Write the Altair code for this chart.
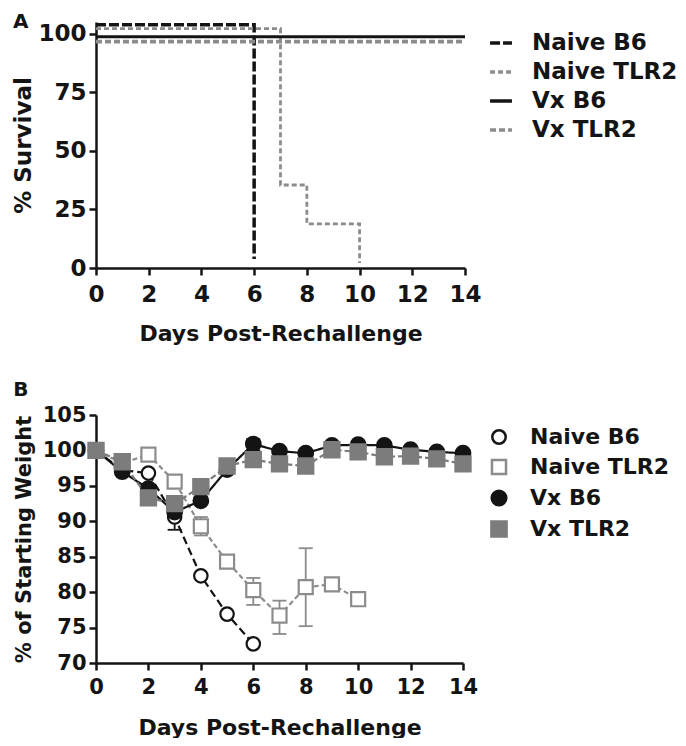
import altair as alt
import pandas as pd

FONT = "DejaVu Sans"
BLACK = "#141414"
GRAY = "#8c8c8c"
DGRAY = "#7c7c7c"

# ---------------- Panel A: survival ----------------
surv_groups = ["Naive B6", "Naive TLR2", "Vx B6", "Vx TLR2"]
surv_nb6_days = [0, 6]
surv_nb6_pct = [100, 0]
surv_nt_days = [0, 7, 8, 10]
surv_nt_pct = [100, 33.3, 16.7, 0]
surv_vb6_days = [0, 14]
surv_vb6_pct = [100, 100]
surv_vt_days = [0, 14]
surv_vt_pct = [100, 100]

# ---------------- Panel B: weight ----------------
w_groups = ["Naive B6", "Naive TLR2", "Vx B6", "Vx TLR2"]
w_nb6_days = [0, 1, 2, 3, 4, 5, 6]
w_nb6 = [100, 97.2, 96.8, 90.6, 82.3, 76.9, 72.7]
w_nt_days = [0, 1, 2, 3, 4, 5, 6, 7, 8, 9, 10]
w_nt = [100, 98.2, 99.4, 95.6, 89.3, 84.3, 80.3, 76.7, 80.7, 81.1, 79.0]
w_vb6_days = list(range(15))
w_vb6 = [100, 97.0, 94.6, 91.3, 92.9, 97.3, 100.9, 99.9, 99.6, 100.7, 100.8, 100.7, 100.1, 99.8, 99.6]
w_vt_days = list(range(15))
w_vt = [100, 98.4, 93.3, 92.5, 94.9, 97.8, 98.7, 98.1, 97.8, 100.1, 99.8, 99.1, 99.2, 98.8, 98.1]

err_groups = ["Naive B6", "Naive TLR2", "Naive TLR2", "Naive TLR2", "Naive TLR2", "Naive TLR2", "Vx B6"]
err_days = [3, 3, 4, 6, 7, 8, 6]
err_lo = [88.8, 94.8, 88.0, 78.2, 74.1, 75.2, 100.0]
err_hi = [91.5, 96.3, 90.6, 82.0, 78.8, 86.2, 101.6]

surv_rows = []
for g, ds, ps in zip(surv_groups,
                     [surv_nb6_days, surv_nt_days, surv_vb6_days, surv_vt_days],
                     [surv_nb6_pct, surv_nt_pct, surv_vb6_pct, surv_vt_pct]):
    for d, p in zip(ds, ps):
        surv_rows.append({"group": g, "day": d, "pct": p})
surv_df = pd.DataFrame(surv_rows)

w_rows = []
for g, ds, ws in zip(w_groups,
                     [w_nb6_days, w_nt_days, w_vb6_days, w_vt_days],
                     [w_nb6, w_nt, w_vb6, w_vt]):
    for d, w in zip(ds, ws):
        w_rows.append({"wgroup": g, "wday": d, "w": w})
w_df = pd.DataFrame(w_rows)

err_df = pd.DataFrame({"wgroup": err_groups, "wday": err_days, "lo": err_lo, "hi": err_hi})


def make_axis(values, label_size, title_size, title_pad, label_pad=3):
    return alt.Axis(values=values, grid=False, domainColor=BLACK, domainWidth=2.5,
                    tickColor=BLACK, tickWidth=2.5, tickSize=7,
                    labelFont=FONT, labelFontSize=label_size, labelFontWeight="bold",
                    labelColor=BLACK, labelPadding=label_pad, labelOverlap=False,
                    titleFont=FONT, titleFontSize=title_size, titleFontWeight="bold",
                    titleColor=BLACK, titlePadding=title_pad, labelFlush=False)


# ---- Panel A ----
color_a = alt.Scale(domain=surv_groups, range=[BLACK, GRAY, BLACK, GRAY])
dash_a = alt.Scale(domain=surv_groups, range=[[10, 3], [5, 3], [1, 0], [6, 3]])
offsets_a = {"Naive B6": -9, "Naive TLR2": -5, "Vx B6": 3, "Vx TLR2": 8}
widths_a = {"Naive B6": 3.5, "Naive TLR2": 2.8, "Vx B6": 3, "Vx TLR2": 3.8}

legend_a = alt.Legend(title=None, orient="none", legendX=392, legendY=8,
                      labelFont=FONT, labelFontSize=23, labelFontWeight="bold",
                      labelColor=BLACK, symbolStrokeWidth=3.5, symbolSize=480,
                      rowPadding=4, labelOffset=18, symbolOpacity=1)

x_a = alt.X("day:Q", scale=alt.Scale(domain=[0, 14]),
            axis=make_axis(list(range(0, 15, 2)), 23, 22, 17, label_pad=8),
            title="Days Post-Rechallenge")
y_a = alt.Y("pct:Q", scale=alt.Scale(domain=[0, 105]),
            axis=make_axis([0, 25, 50, 75, 100], 23, 23, 2), title="% Survival")

layers_a = []
for g in surv_groups:
    layers_a.append(
        alt.Chart(surv_df).transform_filter(alt.datum.group == g)
        .mark_line(interpolate="step-after", yOffset=offsets_a[g], strokeWidth=widths_a[g])
        .encode(x=x_a, y=y_a,
                stroke=alt.Stroke("group:N", scale=color_a, legend=legend_a),
                strokeDash=alt.StrokeDash("group:N", scale=dash_a, legend=legend_a))
    )

panel_a = alt.layer(*layers_a).properties(
    width=369, height=246,
    title=alt.TitleParams("A", anchor="start", frame="bounds", font=FONT, fontSize=20,
                          fontWeight="bold", color=BLACK, offset=-14))

# ---- Panel B ----
stroke_b = alt.Scale(domain=w_groups, range=[BLACK, GRAY, BLACK, DGRAY])
fill_b = alt.Scale(domain=w_groups, range=["white", "white", BLACK, DGRAY])
shape_b = alt.Scale(domain=w_groups, range=["circle", "square", "circle", "square"])
size_b = alt.Scale(domain=w_groups, range=[180, 230, 170, 230])
line_styles_b = {"Naive B6": (BLACK, [8, 4]), "Naive TLR2": (GRAY, [5, 3]),
                 "Vx B6": (BLACK, [1, 0]), "Vx TLR2": (DGRAY, [6, 3])}

legend_b = alt.Legend(title=None, orient="none", legendX=392, legendY=11,
                      labelFont=FONT, labelFontSize=22, labelFontWeight="bold",
                      labelColor=BLACK, symbolStrokeWidth=2.5,
                      rowPadding=5, labelOffset=20, symbolOpacity=1)

x_b = alt.X("wday:Q", scale=alt.Scale(domain=[0, 14]),
            axis=make_axis(list(range(0, 15, 2)), 21, 22, 20, label_pad=6),
            title="Days Post-Rechallenge")
y_axis_b = make_axis(list(range(70, 106, 5)), 21, 21, 8)
y_scale_b = alt.Scale(domain=[70, 105])
y_b = alt.Y("w:Q", scale=y_scale_b, axis=y_axis_b, title="% of Starting Weight")
y_lo_b = alt.Y("lo:Q", scale=y_scale_b, axis=y_axis_b, title="% of Starting Weight")
y_hi_b = alt.Y("hi:Q", scale=y_scale_b, axis=y_axis_b, title="% of Starting Weight")

layers_b = []
for g in w_groups:
    col, dash = line_styles_b[g]
    layers_b.append(
        alt.Chart(w_df).transform_filter(alt.datum.wgroup == g)
        .mark_line(color=col, strokeDash=dash, strokeWidth=2.2)
        .encode(x=x_b, y=y_b)
    )

err_stroke = alt.Stroke("wgroup:N", scale=stroke_b, legend=legend_b)
err_rule = alt.Chart(err_df).mark_rule(strokeWidth=1.8).encode(
    x=x_b, y=y_lo_b, y2="hi:Q", stroke=err_stroke)
err_lo_cap = alt.Chart(err_df).mark_rule(strokeWidth=1.8, xOffset=-7, x2Offset=7).encode(
    x=x_b, x2="wday:Q", y=y_lo_b, stroke=err_stroke)
err_hi_cap = alt.Chart(err_df).mark_rule(strokeWidth=1.8, xOffset=-7, x2Offset=7).encode(
    x=x_b, x2="wday:Q", y=y_hi_b, stroke=err_stroke)

points_b = alt.Chart(w_df).mark_point(strokeWidth=2.2, opacity=1, fillOpacity=1).encode(
    x=x_b, y=y_b,
    shape=alt.Shape("wgroup:N", scale=shape_b, legend=legend_b),
    stroke=alt.Stroke("wgroup:N", scale=stroke_b, legend=legend_b),
    fill=alt.Fill("wgroup:N", scale=fill_b, legend=legend_b),
    size=alt.Size("wgroup:N", scale=size_b, legend=legend_b),
)

panel_b = alt.layer(*layers_b, err_rule, err_lo_cap, err_hi_cap, points_b).properties(
    width=367, height=248,
    title=alt.TitleParams("B", anchor="start", frame="bounds", font=FONT, fontSize=20,
                          fontWeight="bold", color=BLACK, offset=4))

chart = alt.vconcat(panel_a, panel_b, spacing=36).resolve_scale(
    color="independent", stroke="independent", strokeDash="independent",
    shape="independent", fill="independent", size="independent"
).resolve_legend(
    stroke="independent", strokeDash="independent", shape="independent",
    fill="independent", size="independent"
).configure_view(stroke=None).properties(
    background="white", padding={"left": 4, "top": 3, "right": 0, "bottom": 0})

chart.save("out.html", embed_options={"renderer": "svg", "actions": False})
